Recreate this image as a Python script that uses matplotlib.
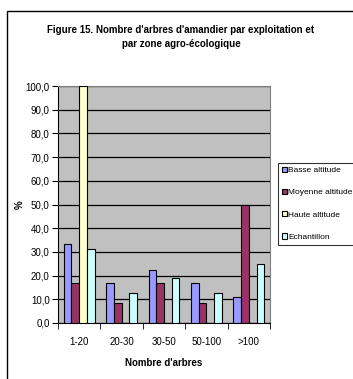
import matplotlib
matplotlib.use("Agg")
import matplotlib.pyplot as plt
import numpy as np
from matplotlib.patches import Rectangle

categories = ["1-20", "20-30", "30-50", "50-100", ">100"]
series_names = ["Basse altitude", "Moyenne altitude", "Haute altitude", "Echantillon"]
basse = [33.3, 16.7, 22.2, 16.7, 11.1]
moyenne = [16.7, 8.3, 16.7, 8.3, 50.0]
haute = [100.0, 0.0, 0.0, 0.0, 0.0]
echantillon = [31.3, 12.5, 18.8, 12.5, 25.0]
yticks = [0, 10, 20, 30, 40, 50, 60, 70, 80, 90, 100]
ytick_labels = ["0,0", "10,0", "20,0", "30,0", "40,0", "50,0", "60,0", "70,0", "80,0", "90,0", "100,0"]

colors = ["#9999FF", "#993366", "#FFFFCC", "#CCFFFF"]

plt.rcParams['font.family'] = ['Liberation Sans', 'DejaVu Sans']

W, H = 353, 379
fig = plt.figure(figsize=(W / 100, H / 100), dpi=100)

# outer chart frame (extends beyond right/bottom edges)
fig.patches.append(Rectangle((7 / W, -0.1), 1.2, 1 - 11 / H + 0.1, transform=fig.transFigure,
                             fill=False, edgecolor="black", linewidth=1.0))

left, right, top, bottom = 58, 270, 86, 323
ax = fig.add_axes([left / W, 1 - bottom / H, (right - left) / W, (bottom - top) / H])
ax.set_facecolor("#C0C0C0")

n = len(categories)
x = np.arange(n)
w = 1 / 5.5
all_series = [basse, moyenne, haute, echantillon]
for i, (vals, c, name) in enumerate(zip(all_series, colors, series_names)):
    offs = (i - 1.5) * w
    ax.bar(x + offs, vals, width=w, color=c, edgecolor="black", linewidth=0.8, label=name, zorder=3)

ax.set_xlim(-0.5, n - 0.5)
ax.set_ylim(0, 100)
ax.set_yticks(yticks)
ax.set_yticklabels(ytick_labels, fontsize=7)
ax.yaxis.grid(True, color="black", linewidth=0.9, zorder=0)
ax.set_axisbelow(True)
ax.set_xticks(x)
ax.set_xticklabels(categories, fontsize=7)
ax.set_xticks(np.arange(n + 1) - 0.5, minor=True)
ax.tick_params(axis="x", which="major", length=0, pad=10)
ax.tick_params(axis="x", which="minor", length=4, direction="out")
ax.tick_params(axis="y", length=4, direction="out", pad=2)
for s in ["top", "right"]:
    ax.spines[s].set_color("#808080")
ax.spines["left"].set_color("black")
ax.spines["bottom"].set_color("black")

ax.set_xlabel("Nombre d'arbres", fontsize=7, fontweight="bold", labelpad=8)
fig.text(20 / W, 1 - 205 / H, "%", rotation=90, fontsize=7, fontweight="bold", ha="center", va="center")

fig.text(181 / W, 1 - 37 / H, "Figure 15. Nombre d'arbres d'amandier par exploitation et\npar zone agro-écologique",
         ha="center", va="center", fontsize=7, fontweight="bold", linespacing=1.4)

leg = fig.legend(loc="upper left", bbox_to_anchor=(278 / W, 1 - 163 / H),
                 prop={'size': 6.0},
                 frameon=True, fancybox=False, edgecolor="black", borderpad=0.45,
                 handlelength=0.6, handleheight=0.6, handletextpad=0.2, labelspacing=1.75,
                 borderaxespad=0)
leg.get_frame().set_linewidth(0.8)

fig.savefig("out.png", dpi=100)
